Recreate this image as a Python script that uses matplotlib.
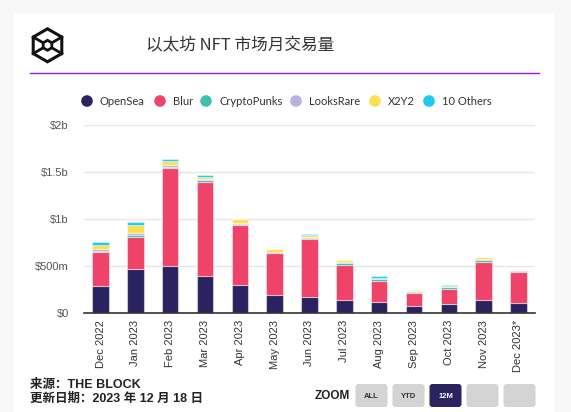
import matplotlib
matplotlib.use("Agg")
import matplotlib.pyplot as plt
import numpy as np
from matplotlib.patches import Rectangle, Circle, Polygon, FancyBboxPatch
from matplotlib.lines import Line2D

# ---------------- data (USD millions) ----------------
months = ["Dec 2022", "Jan 2023", "Feb 2023", "Mar 2023", "Apr 2023", "May 2023",
          "Jun 2023", "Jul 2023", "Aug 2023", "Sep 2023", "Oct 2023", "Nov 2023", "Dec 2023*"]
opensea     = [284, 471, 497, 390, 295, 188, 167, 135, 114, 71, 92, 135, 103]
blur        = [368, 341, 1049, 1000, 638, 447, 624, 379, 230, 145, 167, 411, 337]
cryptopunks = [6, 18, 3, 28, 17, 5, 8, 21, 14, 10, 14, 21, 2]
looksrare   = [20, 24, 26, 7, 5, 4, 13, 3, 10, 6, 7, 11, 14]
x2y2        = [49, 86, 42, 25, 42, 36, 14, 28, 5, 13, 3, 18, 2]
others      = [28, 28, 21, 18, 3, 2, 18, 3, 18, 3, 17, 3, 2]

series_names = ["OpenSea", "Blur", "CryptoPunks", "LooksRare", "X2Y2", "10 Others"]
series_vals = [opensea, blur, cryptopunks, looksrare, x2y2, others]
colors = ["#2a2360", "#f0436a", "#3dbfb1", "#b9b1e1", "#fde052", "#1ec8f2"]

ytick_vals = [0, 500, 1000, 1500, 2000]
ytick_labels = ["$0", "$500m", "$1b", "$1.5b", "$2b"]

title = "以太坊 NFT 市场月交易量"
source_line = "来源：THE BLOCK"
date_line = "更新日期：2023 年 12 月 18 日"
zoom_buttons = ["ALL", "YTD", "12M", "", ""]

W, H = 571, 412
fig = plt.figure(figsize=(W / 100, H / 100), dpi=100)
fig.patch.set_facecolor("#f8f8f8")

# ---------------- decorative overlay in pixel coords ----------------
bg = fig.add_axes([0, 0, 1, 1], zorder=0)
bg.set_xlim(0, W)
bg.set_ylim(H, 0)
bg.axis("off")
bg.add_patch(Rectangle((14, 13), 540, H - 13, facecolor="white", edgecolor="none"))

# logo (cube in hexagon)
cx, cy, R, r = 47.5, 45.3, 16.5, 5.0
ang = np.deg2rad([90, 30, -30, -90, -150, 150])
outer = [(cx + R * np.cos(a), cy - R * np.sin(a)) for a in ang]
inner = [(cx + r * np.cos(a), cy - r * np.sin(a)) for a in ang]
bg.add_patch(Polygon(outer, closed=True, fill=False, edgecolor="#111111", linewidth=2.2, joinstyle="miter"))
bg.add_patch(Polygon(inner, closed=True, fill=False, edgecolor="#111111", linewidth=2.0, joinstyle="miter"))
for i in [1, 2, 4, 5]:
    bg.add_line(Line2D([outer[i][0], inner[i][0]], [outer[i][1], inner[i][1]], color="#111111", linewidth=2.0))

bg.text(146, 46, title, fontsize=12, color="#333333", va="center", ha="left",
        family=["Noto Sans CJK SC", "DejaVu Sans"])
bg.add_line(Line2D([30, 539], [73, 73], color="#9a18e4", linewidth=1.0))

# legend
leg_circles = [87, 160, 206, 296, 375, 429]
for xc, name, col in zip(leg_circles, series_names, colors):
    bg.add_patch(Circle((xc, 101), 5.8, facecolor=col, edgecolor="none"))
    bg.text(xc + 13, 101.5, name, fontsize=8, color="#333333", va="center", ha="left", family="Lato")

# footer
bg.text(30, 385, source_line, fontsize=9, color="#222222", va="center", ha="left",
        fontweight="bold", family=["Liberation Sans", "Noto Sans CJK SC"])
bg.text(30, 399, date_line, fontsize=9, color="#222222", va="center", ha="left",
        fontweight="bold", family=["Liberation Sans", "Noto Sans CJK SC"])

bg.text(332, 396, "ZOOM", fontsize=8.5, color="#222222", va="center", ha="center",
        fontweight="bold", family="Liberation Sans")
btn_x = [355.5, 392.5, 429.5, 466.5, 503.5]
for bx, lab in zip(btn_x, zoom_buttons):
    active = lab == "12M"
    bg.add_patch(FancyBboxPatch((bx, 384), 32, 23, boxstyle="round,pad=0,rounding_size=3",
                                facecolor="#2a2360" if active else "#d4d4d4", edgecolor="none"))
    if lab:
        bg.text(bx + 16, 396, lab, fontsize=5.5, fontweight="bold",
                color="white" if active else "#333333", va="center", ha="center",
                family="Liberation Sans")

# ---------------- main chart ----------------
ax = fig.add_axes([84 / W, 1 - 313 / H, (535 - 84) / W, (313 - 125) / H], zorder=1)
ax.set_facecolor("none")
x = np.arange(len(months))
bottom = np.zeros(len(months))
for vals, col in zip(series_vals, colors):
    v = np.array(vals, dtype=float)
    ax.bar(x, v, bottom=bottom, width=0.47, color=col, edgecolor=(1, 1, 1, 0.45), linewidth=0.8, zorder=3)
    bottom += v

ax.set_xlim(-0.474, 12.474)
ax.set_ylim(0, 2000)
ax.set_yticks(ytick_vals)
ax.set_yticklabels(ytick_labels, family="Liberation Sans", fontsize=8, color="#555555")
ax.set_xticks(x)
ax.set_xticklabels(months, rotation=90, family="Liberation Sans", fontsize=8, color="#333333",
                   va="top", ha="center")
ax.tick_params(axis="y", length=0, pad=11)
ax.tick_params(axis="x", length=0, pad=5)
ax.grid(axis="y", color="#e6e6e6", linewidth=1, zorder=0)
for s in ["top", "right", "left"]:
    ax.spines[s].set_visible(False)
ax.spines["bottom"].set_color("#333333")
ax.spines["bottom"].set_linewidth(1.2)
ax.spines["bottom"].set_zorder(4)

fig.savefig("out.png", dpi=100, facecolor=fig.get_facecolor())
